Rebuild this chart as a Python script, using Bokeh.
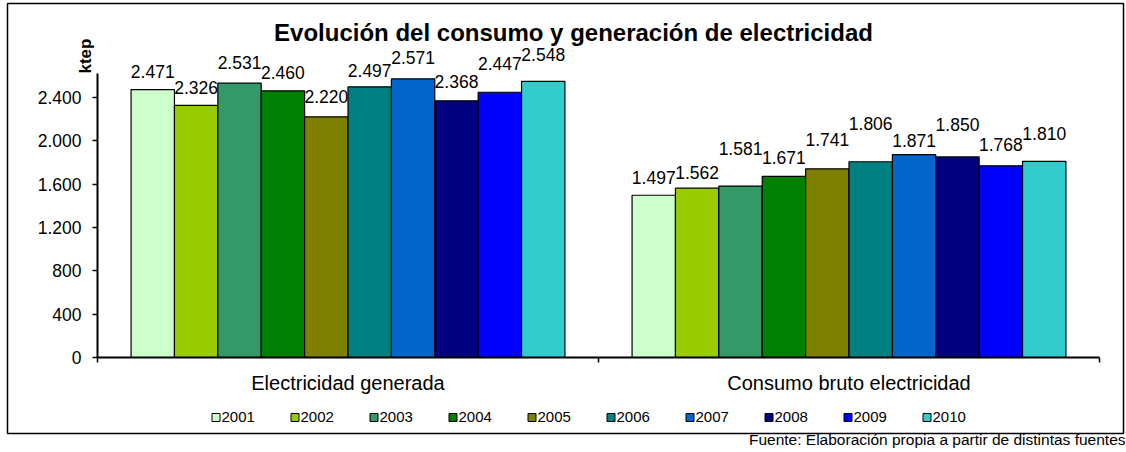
import math
from bokeh.plotting import figure
from bokeh.models import Range1d, FixedTicker, ColumnDataSource
from bokeh.embed import file_html
from bokeh.resources import INLINE
from bokeh.core.properties import value

# ---------------- data ----------------
categories = ["Electricidad generada", "Consumo bruto electricidad"]
years = ["2001", "2002", "2003", "2004", "2005", "2006", "2007", "2008", "2009", "2010"]
generada = [2471, 2326, 2531, 2460, 2220, 2497, 2571, 2368, 2447, 2548]
consumo = [1497, 1562, 1581, 1671, 1741, 1806, 1871, 1850, 1768, 1810]
y_ticks = [0, 400, 800, 1200, 1600, 2000, 2400]
title_text = "Evolución del consumo y generación de electricidad"
y_title = "ktep"
source_note = "Fuente: Elaboración propia a partir de distintas fuentes"

# ---------------- styles ----------------
colors = ["#CCFFCC", "#99CC00", "#339966", "#008000", "#808000",
          "#008080", "#0066CC", "#000080", "#0000FF", "#33CCCC"]
# extra pixel lift of each value label (Excel staggers overlapping labels)
label_lift = [[0, 0, 3, 0, 2, -2, 3, 1, 11, 9],
              [0, -2, 20, 1, 11, 20, -4, 14, 3, 10]]
FONT = "Liberation Sans"
W, H = 1126, 452
FL, FR, FT, FB = 97, 1099, 73, 357
Y_MAX = 2620
NCAT = len(categories)
BW = 0.0866
LEG_X0, LEG_STEP, LEG_Y, LEG_BOX = 211.5, 79.0, 417.0, 8.0


def fmt(v):
    return f"{v:,}".replace(",", ".")


def px_x(px):
    return (px - FL) / (FR - FL) * NCAT


def px_y(py):
    return (FB - py) / (FB - FT) * Y_MAX


p = figure(width=W, height=H, x_range=Range1d(0, NCAT), y_range=Range1d(0, Y_MAX),
           output_backend="svg", toolbar_location=None,
           min_border_left=FL, min_border_right=W - FR,
           min_border_top=FT, min_border_bottom=H - FB)
p.xgrid.visible = False
p.ygrid.visible = False
p.outline_line_color = None
p.background_fill_color = "white"
p.border_fill_color = "white"

# y axis
ya = p.yaxis[0]
ya.ticker = FixedTicker(ticks=y_ticks)
ya.major_label_overrides = {t: fmt(t) for t in y_ticks}
ya.major_tick_out = 5
ya.major_tick_in = 0
ya.minor_tick_out = 0
ya.minor_tick_in = 0
ya.axis_line_width = 2
ya.axis_line_color = "black"
ya.major_tick_line_width = 1.5
ya.major_tick_line_color = "black"
ya.major_label_text_font = FONT
ya.major_label_text_font_size = "17.5px"
ya.major_label_text_color = "black"
ya.major_label_standoff = 11

# x axis
xa = p.xaxis[0]
centers = [c + 0.5 for c in range(NCAT)]
xa.ticker = FixedTicker(ticks=centers, minor_ticks=list(range(NCAT + 1)))
xa.major_label_overrides = {centers[c]: categories[c] for c in range(NCAT)}
xa.major_tick_out = 0
xa.major_tick_in = 0
xa.minor_tick_out = 5
xa.minor_tick_in = 0
xa.minor_tick_line_width = 1.5
xa.minor_tick_line_color = "black"
xa.axis_line_width = 2
xa.axis_line_color = "black"
xa.major_label_text_font = FONT
xa.major_label_text_font_size = "20px"
xa.major_label_text_color = "black"
xa.major_label_standoff = 9

# bars and value labels
n = len(years)
for i, yr in enumerate(years):
    vals = [generada[i], consumo[i]]
    xs = [centers[c] + (i - (n - 1) / 2) * BW for c in range(NCAT)]
    src = ColumnDataSource(dict(
        x=xs, top=vals, label=[fmt(v) for v in vals],
        off=[-(18 + label_lift[c][i]) for c in range(NCAT)]))
    p.vbar(x="x", top="top", width=BW, source=src, fill_color=colors[i],
           line_color="black", line_width=1.2)
    p.text(x="x", y="top", text="label", y_offset="off", source=src,
           text_align="center", text_baseline="middle", level="overlay",
           text_font=value(FONT), text_font_size="17.5px", text_color="black")

# legend (drawn below the plot area, one swatch + label per year)
leg_left = [px_x(LEG_X0 + LEG_STEP * i) for i in range(n)]
leg_right = [px_x(LEG_X0 + LEG_STEP * i + LEG_BOX) for i in range(n)]
p.quad(left=leg_left, right=leg_right, top=[px_y(LEG_Y - LEG_BOX / 2)] * n,
       bottom=[px_y(LEG_Y + LEG_BOX / 2)] * n, fill_color=colors,
       line_color="black", line_width=1, level="overlay")
p.text(x=[px_x(LEG_X0 + LEG_STEP * i + LEG_BOX + 1.5) for i in range(n)],
       y=[px_y(LEG_Y - 1)] * n, text=years, text_align="left", text_baseline="middle",
       level="overlay", text_font=value(FONT), text_font_size="15px",
       text_color="black")

# title and axis title
p.text(x=[NCAT / 2], y=[Y_MAX], text=[title_text], x_offset=-25, y_offset=-41,
       text_align="center", text_baseline="middle", level="overlay",
       text_font=value(FONT), text_font_size="24px", text_font_style="bold",
       text_color="black")
p.text(x=[0], y=[Y_MAX], text=[y_title], x_offset=-12, y_offset=0, angle=math.pi / 2,
       text_align="left", text_baseline="middle", level="overlay",
       text_font=value(FONT), text_font_size="17px", text_font_style="bold",
       text_color="black")

# source note (partly hidden under the chart border, as in the original)
p.text(x=[NCAT], y=[0], text=[source_note], x_offset=26, y_offset=82,
       text_align="right", text_baseline="middle", level="overlay",
       text_font=value(FONT), text_font_size="15.5px", text_color="black")
p.quad(left=[px_x(745)], right=[px_x(1122)], top=[px_y(426)], bottom=[px_y(433)],
       fill_color="white", line_color=None, level="overlay")
p.quad(left=[px_x(7)], right=[px_x(1123)], top=[px_y(3)], bottom=[px_y(433)],
       fill_color=None, line_color="black", line_width=1.5, level="overlay")

open("out.html", "w").write(file_html(p, INLINE))
